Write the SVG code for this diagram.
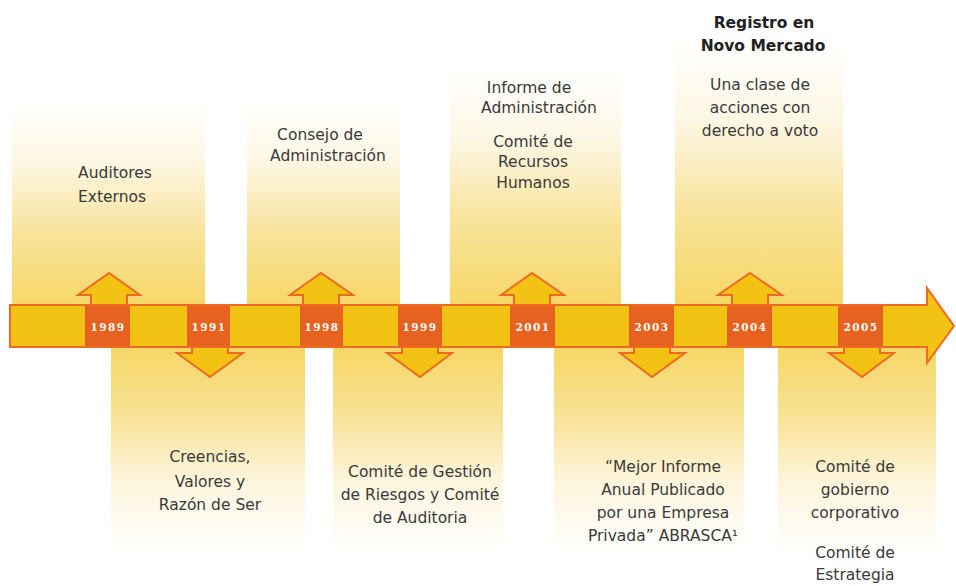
<svg xmlns="http://www.w3.org/2000/svg" width="956" height="586" viewBox="0 0 956 586">
<defs>
<linearGradient id="gUp" x1="0" y1="0" x2="0" y2="1">
<stop offset="0" stop-color="#ffffff"/>
<stop offset="0.3" stop-color="#fdf7e4"/>
<stop offset="0.65" stop-color="#f8e39a"/>
<stop offset="1" stop-color="#f6d766"/>
</linearGradient>
<linearGradient id="gDown" x1="0" y1="0" x2="0" y2="1">
<stop offset="0" stop-color="#f6d766"/>
<stop offset="0.3" stop-color="#f8e08e"/>
<stop offset="0.65" stop-color="#fdf5dc"/>
<stop offset="1" stop-color="#ffffff"/>
</linearGradient>
<style>
.pu{fill:url(#gUp)}
.pd{fill:url(#gDown)}
.t{font-family:"DejaVu Sans",Verdana,sans-serif;font-size:15.5px;fill:#3a3a3a;text-anchor:middle}
.tb{font-family:"DejaVu Sans",Verdana,sans-serif;font-size:15.5px;font-weight:bold;fill:#222;text-anchor:middle}
.yr{fill:#e8621f}
.yt{font-family:"DejaVu Serif",Georgia,serif;font-size:10.5px;font-weight:bold;fill:#ffffff;text-anchor:middle;letter-spacing:1.5px}
.arr{fill:#f2c314;stroke:#ee6a22;stroke-width:2;stroke-linejoin:miter}
.bar{fill:#f2c314;stroke:#ee6a22;stroke-width:2}
</style>
</defs>
<rect width="956" height="586" fill="#ffffff"/>

<g id="panels">
<rect class="pu" x="12" y="100" width="193" height="206"/>
<rect class="pu" x="247" y="100" width="153" height="206"/>
<rect class="pu" x="450" y="68" width="171" height="238"/>
<rect class="pu" x="675" y="40" width="168" height="266"/>
<rect class="pd" x="111" y="346" width="194" height="207"/>
<rect class="pd" x="333" y="346" width="170" height="205"/>
<rect class="pd" x="554" y="346" width="190" height="207"/>
<rect class="pd" x="778" y="346" width="158" height="210"/>
</g>

<g id="connectors">
<polygon class="arr" points="91,306 91,295 78,295 109,273 140,295 127,295 127,306"/>
<polygon class="arr" points="303,306 303,295 290,295 321,273 353,295 339,295 339,306"/>
<polygon class="arr" points="514,306 514,295 501,295 532,273 564,295 550,295 550,306"/>
<polygon class="arr" points="732,306 732,295 718,295 750,273 782,295 768,295 768,306"/>
<polygon class="arr" points="192,346 192,353 177,353 210,377 243,353 228,353 228,346"/>
<polygon class="arr" points="402,346 402,353 387,353 420,377 452,353 438,353 438,346"/>
<polygon class="arr" points="634,346 634,353 620,353 652,377 685,353 670,353 670,346"/>
<polygon class="arr" points="844,346 844,353 829,353 862,377 894,353 880,353 880,346"/>
</g>

<g id="timeline">
<polygon class="bar" points="10,305 927,305 927,288 954,326 927,363 927,347 10,347"/>
<rect class="yr" x="85" y="306" width="45" height="40"/>
<rect class="yr" x="187" y="306" width="43" height="40"/>
<rect class="yr" x="300" y="306" width="43" height="40"/>
<rect class="yr" x="398" y="306" width="44" height="40"/>
<rect class="yr" x="510" y="306" width="45" height="40"/>
<rect class="yr" x="629" y="306" width="45" height="40"/>
<rect class="yr" x="727" y="306" width="45" height="40"/>
<rect class="yr" x="838" y="306" width="45" height="40"/>
<text class="yt" x="108" y="331">1989</text>
<text class="yt" x="209" y="331">1991</text>
<text class="yt" x="322" y="331">1998</text>
<text class="yt" x="420" y="331">1999</text>
<text class="yt" x="533" y="331">2001</text>
<text class="yt" x="652" y="331">2003</text>
<text class="yt" x="750" y="331">2004</text>
<text class="yt" x="861" y="331">2005</text>
</g>

<g id="n1989">
<text class="t" x="115" y="178">Auditores</text>
<text class="t" x="112" y="202">Externos</text>
</g>
<g id="n1998">
<text class="t" x="320" y="140">Consejo de</text>
<text class="t" x="328" y="161">Administración</text>
</g>
<g id="n2001">
<text class="t" x="529" y="93">Informe de</text>
<text class="t" x="539" y="113">Administración</text>
<text class="t" x="533" y="147">Comité de</text>
<text class="t" x="533" y="167">Recursos</text>
<text class="t" x="533" y="188">Humanos</text>
</g>
<g id="n2004">
<text class="tb" x="764" y="28">Registro en</text>
<text class="tb" x="763" y="51">Novo Mercado</text>
<text class="t" x="760" y="90">Una clase de</text>
<text class="t" x="760" y="113">acciones con</text>
<text class="t" x="760" y="136">derecho a voto</text>
</g>
<g id="n1991">
<text class="t" x="210" y="462">Creencias,</text>
<text class="t" x="210" y="487">Valores y</text>
<text class="t" x="210" y="510">Razón de Ser</text>
</g>
<g id="n1999">
<text class="t" x="420" y="477">Comité de Gestión</text>
<text class="t" x="420" y="500">de Riesgos y Comité</text>
<text class="t" x="420" y="523">de Auditoria</text>
</g>
<g id="n2003">
<text class="t" x="663" y="472">“Mejor Informe</text>
<text class="t" x="663" y="495">Anual Publicado</text>
<text class="t" x="663" y="518">por una Empresa</text>
<text class="t" x="663" y="541">Privada” ABRASCA¹</text>
</g>
<g id="n2005">
<text class="t" x="855" y="472">Comité de</text>
<text class="t" x="855" y="495">gobierno</text>
<text class="t" x="855" y="518">corporativo</text>
<text class="t" x="855" y="558">Comité de</text>
<text class="t" x="855" y="580">Estrategia</text>
</g>
</svg>
